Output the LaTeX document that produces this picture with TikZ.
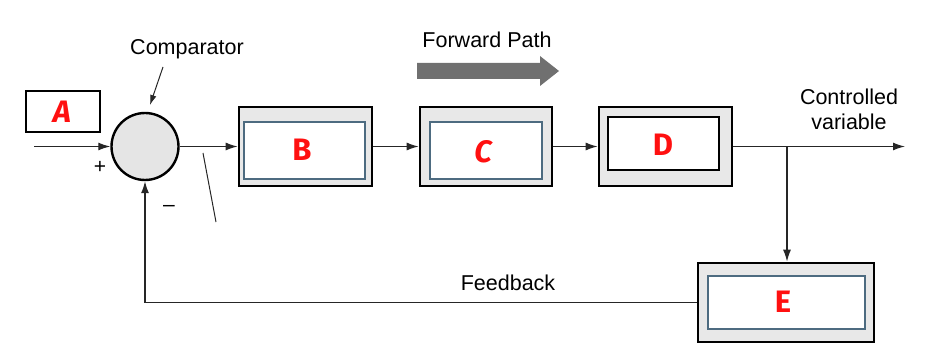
\documentclass[tikz,border=0pt]{standalone}
\usepackage{fontspec}
\setmainfont{Liberation Sans}
\newfontfamily\letterfont{Fira Sans}
\usetikzlibrary{arrows.meta}
\definecolor{boxgray}{HTML}{E8E8E8}
\definecolor{innerblue}{HTML}{4D6B80}
\definecolor{fwdgray}{HTML}{707070}
\definecolor{letterred}{HTML}{FF1010}
\tikzset{
  outerbox/.style={draw=black, line width=2.6pt, fill=boxgray, minimum width=#1, minimum height=79pt, inner sep=0pt},
  innerbox/.style={draw=innerblue, line width=1.4pt, fill=white, inner sep=0pt},
  letter/.style={text=letterred, font=\letterfont\bfseries\fontsize{31}{31}\selectfont},
  lbl/.style={font=\fontsize{21.5}{25}\selectfont, inner sep=0pt, align=center},
  conn/.style={draw=black!85, line width=1.3pt},
  arr/.style={conn, -{Latex[length=12pt,width=8pt]}},
}
\begin{document}
\begin{tikzpicture}[x=1pt,y=-1pt]
\useasboundingbox (0,0) rectangle (925,355);
% A
\node[draw, line width=1.4pt, minimum width=74pt, minimum height=41pt, inner sep=0pt] (Abox) at (63,111.5) {};
\node[letter, font=\letterfont\bfseries\itshape\fontsize{31}{31}\selectfont] (Alet) at (62,112) {A};
% comparator
\node[circle, draw=black, line width=2.4pt, fill=black!10, minimum size=67pt, inner sep=0pt] (comp) at (145,146.5) {};
\node[lbl] (complbl) at (187,49) {Comparator};
\coordinate (cp1) at (163,67);
\coordinate (cp2) at (150,105);
\draw[conn, line width=1pt, -{Latex[length=10pt,width=6.5pt]}] (cp1) -- (cp2);
\node[font=\fontsize{21}{21}\selectfont] (plus) at (100,167) {+};
\node[font=\fontsize{21}{21}\selectfont] (minus) at (169,208) {--};
% B, C, D
\node[outerbox=133pt] (B) at (305.5,146.5) {};
\node[innerbox, minimum width=121pt, minimum height=57pt] (Bi) at (304.5,150.5) {};
\node[letter] (Blet) at (302,150) {B};
\node[outerbox=132pt] (C) at (486,146.5) {};
\node[innerbox, minimum width=112pt, minimum height=57pt] (Ci) at (486,150.5) {};
\node[letter, font=\letterfont\bfseries\itshape\fontsize{31}{31}\selectfont] (Clet) at (483,152) {C};
\node[outerbox=133pt] (D) at (665.5,146.5) {};
\node[draw=black, line width=2pt, fill=white, minimum width=111pt, minimum height=53pt, inner sep=0pt] (Di) at (663.5,143.5) {};
\node[letter] (Dlet) at (663,145) {D};
% E
\node[outerbox=176pt] (E) at (786,302.5) {};
\node[innerbox, minimum width=157pt, minimum height=53pt] (Ei) at (786.5,302.5) {};
\node[letter] (Elet) at (783,302) {E};
% labels
\node[lbl] (fwdlbl) at (487,40) {Forward Path};
\node[lbl] (ctrl) at (849,109) {Controlled\\variable};
\node[lbl] (fb) at (508,283) {Feedback};
% forward path arrow
\fill[fwdgray] (417,63) -- (540,63) -- (540,56) -- (559,71) -- (540,86) -- (540,79) -- (417,79) -- cycle;
% connectors
\coordinate (in) at (34,146.5);
\coordinate (out) at (905,146.5);
\coordinate (branch) at (787,146.5);
\coordinate (err1) at (216,222);
\coordinate (err2) at (203,153);
\draw[arr] (in) -- (comp.west);
\draw[arr] (comp.east) -- (B.west);
\draw[arr] (B.east) -- (C.west);
\draw[arr] (C.east) -- (D.west);
\draw[arr] (D.east) -- (out);
\draw[arr] (branch) -- (branch |- E.north);
\draw[arr] (E.west) -| (comp.south);
\draw[conn, line width=1pt] (err1) -- (err2);
\end{tikzpicture}
\end{document}
